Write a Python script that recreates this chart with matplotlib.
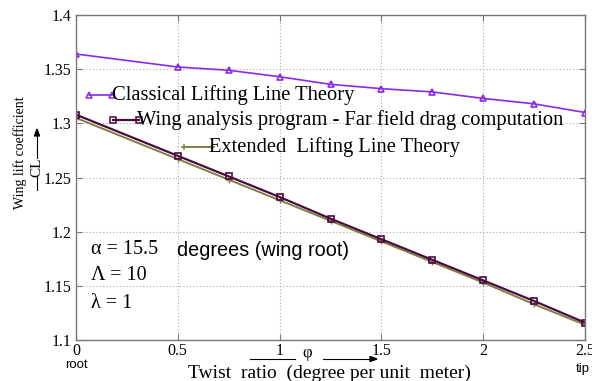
import matplotlib
matplotlib.use("Agg")
import matplotlib.pyplot as plt

twist = [0, 0.5, 0.75, 1.0, 1.25, 1.5, 1.75, 2.0, 2.25, 2.5]
cl_classical = [1.364, 1.352, 1.349, 1.343, 1.336, 1.332, 1.329, 1.323, 1.318, 1.310]
cl_wing = [1.308, 1.270, 1.251, 1.232, 1.212, 1.193, 1.174, 1.155, 1.136, 1.116]
cl_extended = [1.305, 1.267, 1.248, 1.229, 1.210, 1.191, 1.172, 1.153, 1.133, 1.114]
xticks = [0, 0.5, 1, 1.5, 2, 2.5]
xticklabels = ["0", "0.5", "1", "1.5", "2", "2.5"]
yticks = [1.1, 1.15, 1.2, 1.25, 1.3, 1.35, 1.4]
yticklabels = ["1.1", "1.15", "1.2", "1.25", "1.3", "1.35", "1.4"]
legend_labels = ["Classical Lifting Line Theory",
                 "Wing analysis program - Far field drag computation",
                 "Extended  Lifting Line Theory"]

c_cl = "#8a2be6"
c_wing = "#4a0a40"
c_ext = "#7f7f40"
serif = "Liberation Serif"
sans = "Liberation Sans"

fig = plt.figure(figsize=(5.92, 3.81), dpi=100)
W, H = 592, 381
L, R, T, B = 76, 585, 15, 340
ax = fig.add_axes([L / W, 1 - B / H, (R - L) / W, (B - T) / H])

ax.plot(twist, cl_classical, color=c_cl, lw=1.2, marker="^", ms=5, mfc="none", mew=1.2)
ax.plot(twist, cl_wing, color=c_wing, lw=1.6, marker="s", ms=4.5, mfc="none", mew=1.2)
ax.plot(twist, cl_extended, color=c_ext, lw=1.4, marker="+", ms=5, mew=1.0, zorder=1.9)

ax.set_xlim(0, 2.5)
ax.set_ylim(1.1, 1.4)
ax.set_xticks(xticks)
ax.set_xticklabels(xticklabels, fontfamily=serif, fontsize=11.5)
ax.set_yticks(yticks)
ax.set_yticklabels(yticklabels, fontfamily=serif, fontsize=11.5)
ax.tick_params(axis="x", pad=2)
ax.tick_params(direction="in", length=4, color="#777777", top=True, right=True)
ax.grid(True, linestyle=(0, (1, 2)), color="#aaaaaa", lw=0.8)
for s in ax.spines.values():
    s.set_color("#777777")
    s.set_linewidth(1.0)

def fx(px):
    return (px - L) / (R - L)

def fy(py):
    return (B - py) / (B - T)

# legend entries (staircase)
leg = [
    (89, 112, 95, c_cl, "^", 5, 1.2, 112),
    (113, 139, 120, c_wing, "s", 4.5, 1.6, 137),
    (184, 212, 147, c_ext, "+", 5, 1.4, 209),
]
for (x0, x1, y, c, m, ms, lw, tx), lab in zip(leg, legend_labels):
    ax.plot([fx(x0), fx(x1)], [fy(y), fy(y)], transform=ax.transAxes, color=c, lw=lw,
            marker=m, ms=ms, mfc="none", mew=1.1, clip_on=False)
    ax.text(fx(tx), fy(y), lab, transform=ax.transAxes, fontfamily=serif, fontsize=14.8,
            va="center", ha="left")

# annotation texts
ax.text(fx(91), fy(250), "α = 15.5", transform=ax.transAxes, fontfamily=serif, fontsize=14.5, va="center")
ax.text(fx(177), fy(250), "degrees (wing root)", transform=ax.transAxes, fontfamily=sans, fontsize=14.3, va="center")
ax.text(fx(91), fy(276), "Λ = 10", transform=ax.transAxes, fontfamily=serif, fontsize=14.5, va="center")
ax.text(fx(91), fy(303), "λ = 1", transform=ax.transAxes, fontfamily=serif, fontsize=14.5, va="center")

# root / tip labels
fig.text(76 / W, 1 - 365 / H, "root", fontfamily=sans, fontsize=9.5, ha="center", va="center")
fig.text(583 / W, 1 - 369 / H, "tip", fontfamily=sans, fontsize=9.5, ha="center", va="center")

# x label
fig.text(329 / W, 1 - 373 / H, "Twist  ratio  (degree per unit  meter)", fontfamily=serif,
         fontsize=14, ha="center", va="center")
fig.text(307 / W, 1 - 353 / H, "φ", fontfamily=serif, fontsize=12, ha="center", va="center")
fig.add_artist(plt.Line2D([250 / W, 295 / W], [1 - 359 / H, 1 - 359 / H], color="black", lw=0.8))
fig.add_artist(plt.Line2D([323 / W, 372 / W], [1 - 359 / H, 1 - 359 / H], color="black", lw=0.8))
fig.patches.append(matplotlib.patches.FancyArrow(
    370 / W, 1 - 359 / H, 7 / W, 0, width=0, head_width=5 / H, head_length=7 / W,
    color="black", length_includes_head=True, transform=fig.transFigure, figure=fig))

# y label
fig.text(20 / W, 1 - 153 / H, "Wing lift coefficient", fontfamily=serif, fontsize=10,
         rotation=90, ha="center", va="center")
fig.text(37 / W, 1 - 167 / H, "CL", fontfamily=serif, fontsize=11, rotation=90, ha="center", va="center")
fig.add_artist(plt.Line2D([37 / W, 37 / W], [1 - 190 / H, 1 - 177 / H], color="black", lw=0.8))
fig.add_artist(plt.Line2D([37 / W, 37 / W], [1 - 158 / H, 1 - 134 / H], color="black", lw=0.8))
fig.patches.append(matplotlib.patches.FancyArrow(
    37 / W, 1 - 136 / H, 0, 7 / H, width=0, head_width=5 / W, head_length=7 / H,
    color="black", length_includes_head=True, transform=fig.transFigure, figure=fig))

fig.savefig("out.png", dpi=100)
